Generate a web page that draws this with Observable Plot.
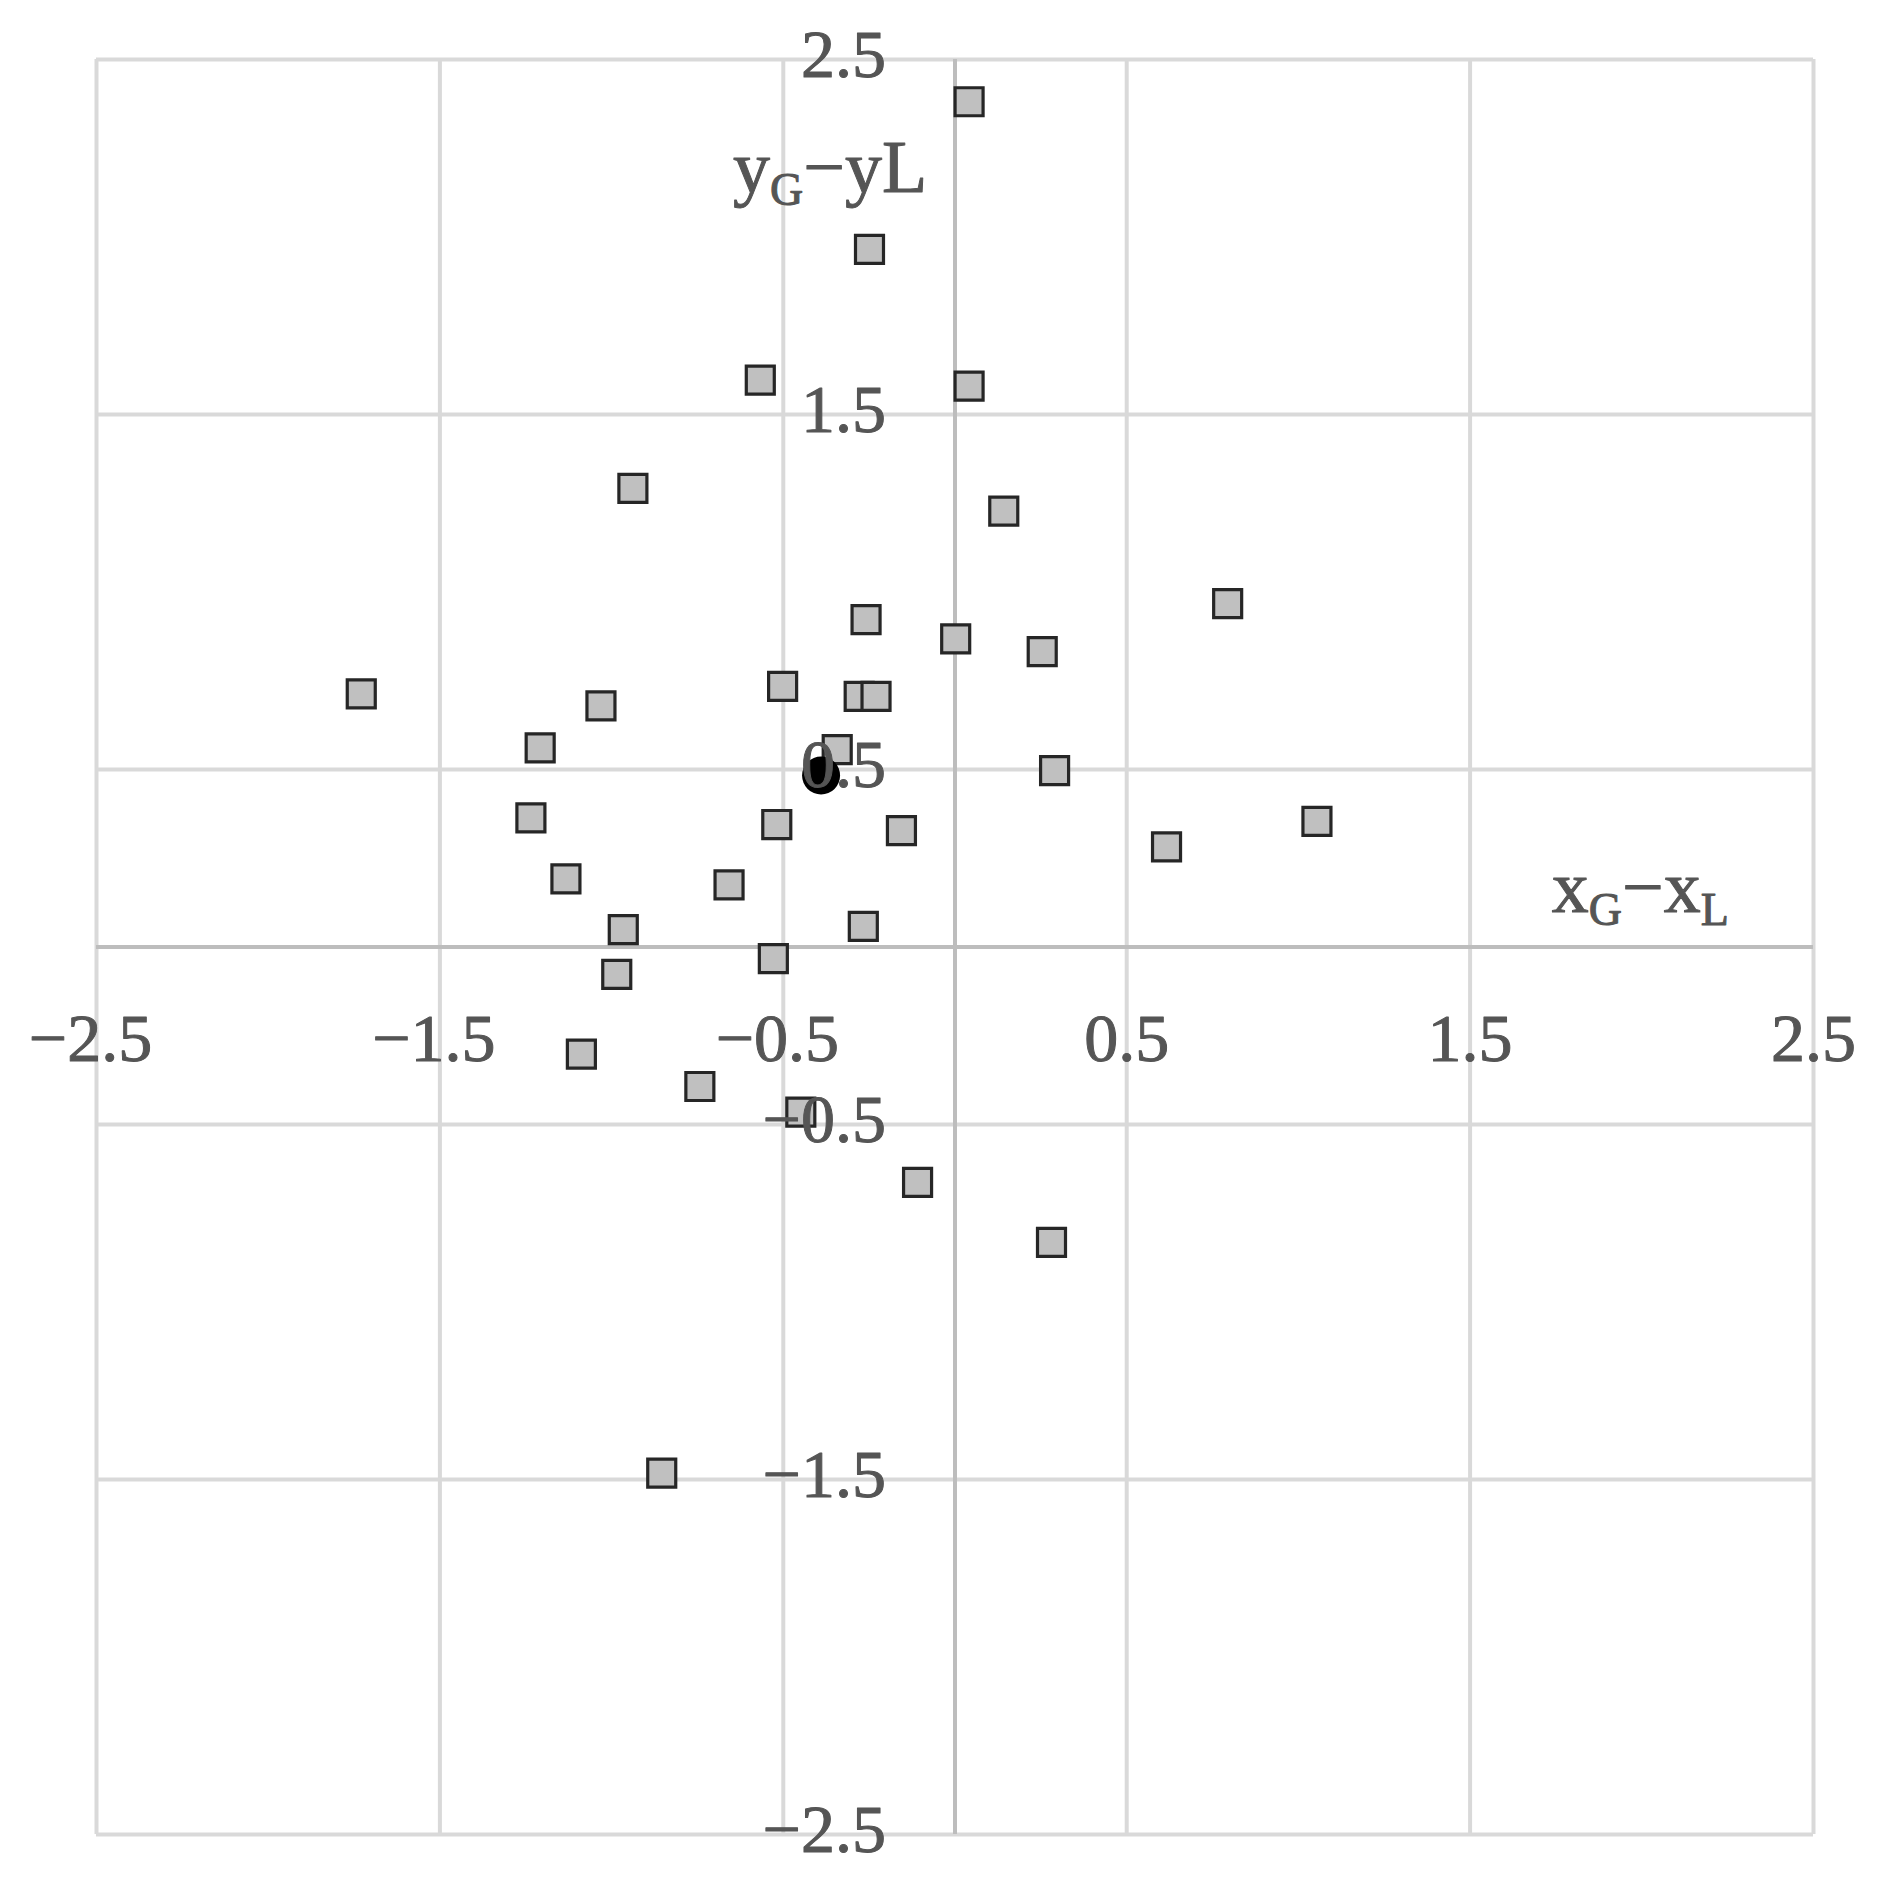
<!DOCTYPE html>
<html>
<head>
<meta charset="utf-8">
<script src="https://cdn.jsdelivr.net/npm/d3@7"></script>
<script src="https://cdn.jsdelivr.net/npm/@observablehq/plot@0.6"></script>
<style>
html, body { margin: 0; padding: 0; background: #fff; overflow: hidden; }
#chart svg { display: block; }
</style>
</head>
<body>
<div id="chart"></div>
<script>
// Grid / tick values and labels
const gridValues = [-2.5, -1.5, -0.5, 0.5, 1.5, 2.5];
const tickLabels = ["−2.5", "−1.5", "−0.5", "0.5", "1.5", "2.5"];

// x_G − x_L values of the squares
const xDiff = [0.041, -0.249, -0.567, 0.041, -0.938, 0.142, 0.794, -0.259, 0.002, 0.254,
  -1.729, -0.502, -1.031, -0.279, -0.230, -1.208, -0.343, 0.290, -1.235, -0.519,
  -0.156, 1.054, 0.616, -1.133, -0.658, -0.966, -0.267, -0.529, -0.985, -1.088,
  -0.743, -0.449, -0.109, 0.281, -0.854];
// y_G − y_L values of the squares
const yDiff = [2.381, 1.965, 1.597, 1.580, 1.292, 1.228, 0.967, 0.922, 0.868, 0.832,
  0.713, 0.734, 0.679, 0.706, 0.706, 0.561, 0.556, 0.497, 0.364, 0.345,
  0.328, 0.354, 0.282, 0.192, 0.175, 0.049, 0.058, -0.033, -0.077, -0.302,
  -0.393, -0.465, -0.663, -0.832, -1.482];

// black mean marker
const meanX = [-0.390];
const meanY = [0.483];

// axis titles
const xTitle = "xG−xL";
const yTitle = "yG−yL";

const points = xDiff.map((x, i) => ({x, y: yDiff[i]}));
const meanPts = meanX.map((x, i) => ({x, y: meanY[i]}));
const ticks = gridValues.map((v, i) => ({v, label: tickLabels[i]}));

const font = "'Liberation Serif', 'Times New Roman', serif";
const textColor = "#555555";
const fs = 68;
const txt = {fontSize: fs, fill: textColor, stroke: textColor, strokeWidth: 1};

const plot = Plot.plot({
  width: 1878,
  height: 1881,
  marginTop: 59,
  marginBottom: 47,
  marginLeft: 96,
  marginRight: 65,
  x: {domain: [-2.5, 2.5], axis: null},
  y: {domain: [-2.5, 2.5], axis: null},
  style: {background: "#fff", fontFamily: font},
  marks: [
    Plot.ruleX(gridValues, {stroke: "#d9d9d9", strokeWidth: 4}),
    Plot.ruleY(gridValues, {stroke: "#d9d9d9", strokeWidth: 4}),
    Plot.ruleX([0], {stroke: "#bdbdbd", strokeWidth: 4}),
    Plot.ruleY([0], {stroke: "#bdbdbd", strokeWidth: 4}),
    Plot.dot(points, {x: "x", y: "y", symbol: "square", r: 15.8, fill: "#c0c0c0", stroke: "#262626", strokeWidth: 3.2}),
    Plot.dot(meanPts, {x: "x", y: "y", r: 19, fill: "#000"}),
    // x tick labels
    Plot.text(ticks, {filter: d => d.v < 0, x: "v", y: -0.26, text: "label", dx: -6, ...txt}),
    Plot.text(ticks, {filter: d => d.v > 0, x: "v", y: -0.26, text: "label", ...txt}),
    // y tick labels
    Plot.text(ticks, {x: -0.201, y: "v", text: "label", textAnchor: "end", dy: -4, ...txt}),
    // axis titles
    Plot.text([xTitle], {x: 1.738, y: 0.165, text: d => d, textAnchor: "start", ...txt, fontSize: 74}),
    Plot.text([yTitle], {x: -0.6465, y: 2.193, text: d => d, textAnchor: "start", ...txt, fontSize: 74})
  ]
});

document.getElementById("chart").appendChild(plot);

function subscriptify(svg, full, parts) {
  d3.select(svg).selectAll("text")
    .filter(function() { return this.textContent === full; })
    .each(function() {
      const t = d3.select(this);
      t.text("");
      let shifted = false;
      parts.forEach(([s, sub]) => {
        const ts = t.append("tspan").text(s);
        if (sub && !shifted) { ts.attr("font-size", 46).attr("dy", 13); shifted = true; }
        else if (sub) { ts.attr("font-size", 46); }
        else if (!sub && shifted) { ts.attr("dy", -13); shifted = false; }
      });
    });
}
subscriptify(plot, yTitle, [["y", false], ["G", true], ["−yL", false]]);
subscriptify(plot, xTitle, [["x", false], ["G", true], ["−x", false], ["L", true]]);
</script>
</body>
</html>
